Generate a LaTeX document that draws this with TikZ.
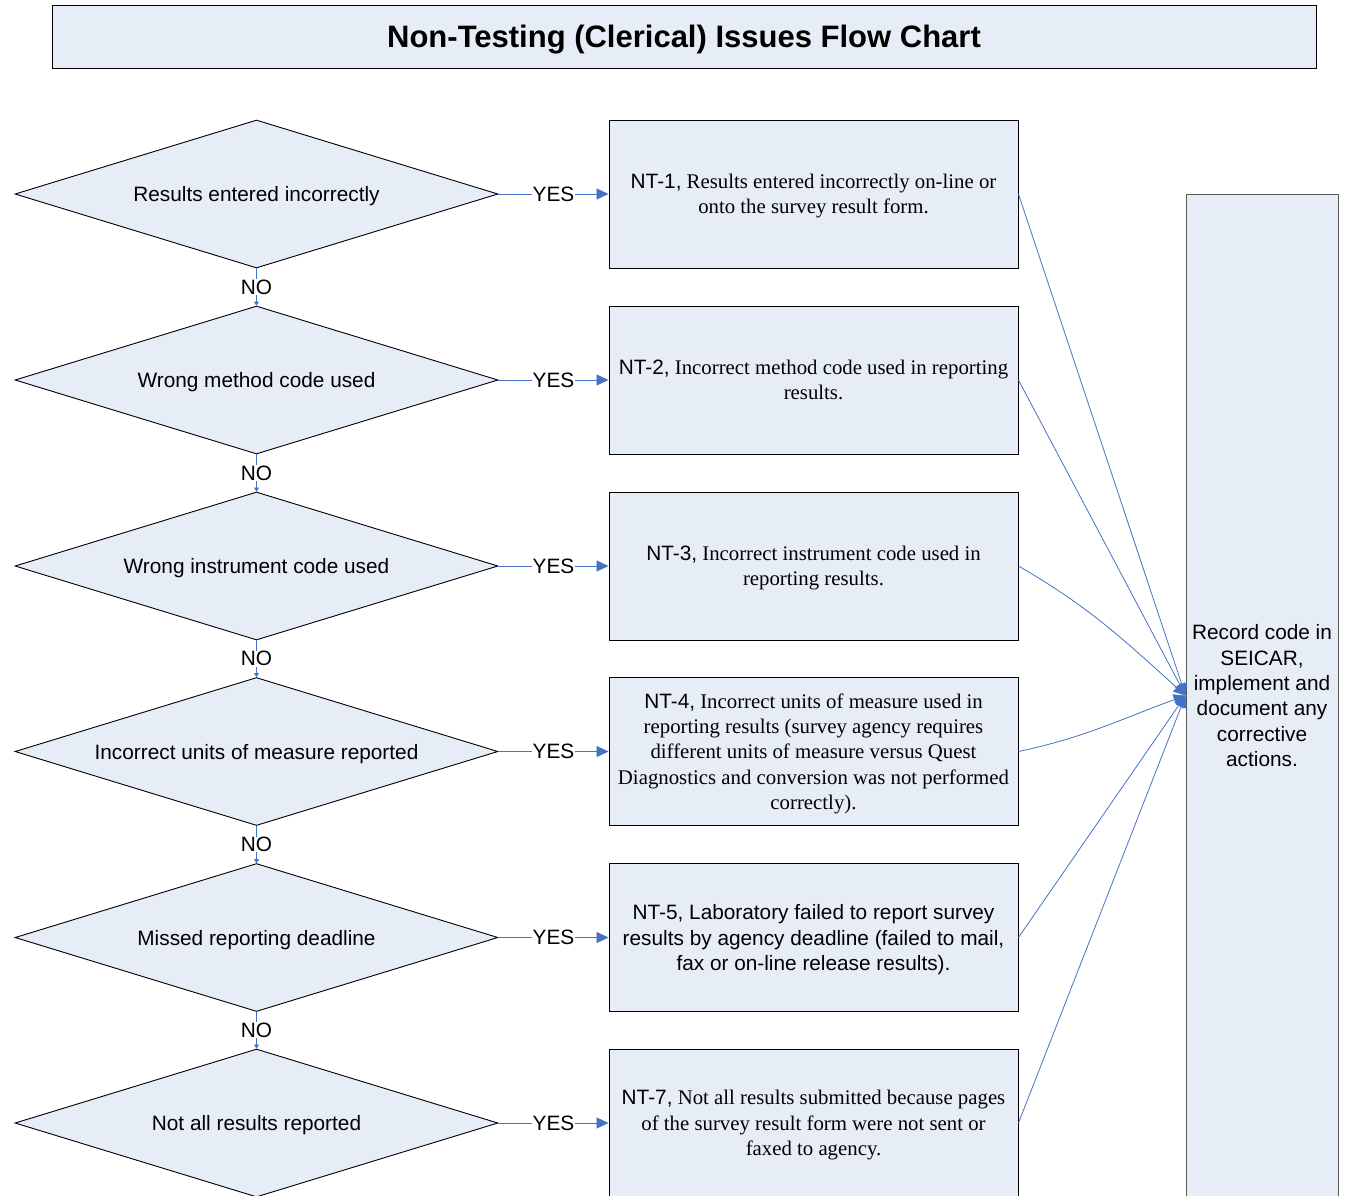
\documentclass[tikz,border=0pt]{standalone}
\usepackage{fontspec}
\setmainfont{Liberation Serif}
\setsansfont{Liberation Sans}
\usetikzlibrary{shapes.geometric,arrows.meta}
\definecolor{fillb}{RGB}{231,237,247}
\definecolor{lineb}{RGB}{68,114,196}
\newcommand\myfs{\fontsize{20.8}{25.3}\selectfont}
\begin{document}
\begin{tikzpicture}[x=1pt,y=-1pt,
  dia/.style={diamond, draw=black, fill=fillb, line width=0.9pt, minimum width=483pt, minimum height=148pt, inner sep=0pt, aspect=3.26, text depth=0pt, font=\sffamily\myfs},
  res/.style={rectangle, draw=black, fill=fillb, line width=0.9pt, minimum width=409pt, minimum height=148pt, inner sep=2pt, align=center, text depth=0pt, font=\rmfamily\myfs},
  yesarr/.style={draw=lineb, line width=0.8pt, -{Triangle[length=12pt,width=11pt]}},
  noarr/.style={draw=lineb, line width=0.8pt, -{Triangle[length=4pt,width=5pt]}},
  toarr/.style={draw=lineb, line width=0.8pt, -{Triangle[length=12pt,width=11pt]}},
  lbl/.style={fill=white, inner sep=1pt, font=\sffamily\myfs, text=black}]
\path[use as bounding box, clip] (0,0) rectangle (1348,1195);
\node[rectangle, draw=black, fill=fillb, line width=0.9pt, minimum width=1264pt, minimum height=63pt, text depth=0pt, font=\sffamily\bfseries\fontsize{31}{36}\selectfont] (title) at (684,36.5) {Non-Testing (Clerical) Issues Flow Chart};

\node[dia] (d1) at (256.5,194) {Results entered incorrectly};
\node[dia] (d2) at (256.5,380) {Wrong method code used};
\node[dia] (d3) at (256.5,566) {Wrong instrument code used};
\node[dia] (d4) at (256.5,751.5) {Incorrect units of measure reported};
\node[dia] (d5) at (256.5,937.5) {Missed reporting deadline};
\node[dia] (d6) at (256.5,1123) {Not all results reported};

\node[res] (r1) at (813.5,194) {{\sffamily NT-1,} Results entered incorrectly on-line or\\onto the survey result form.};
\node[res] (r2) at (813.5,380) {{\sffamily NT-2,} Incorrect method code used in reporting\\results.};
\node[res] (r3) at (813.5,566) {{\sffamily NT-3,} Incorrect instrument code used in\\reporting results.};
\node[res] (r4) at (813.5,751.5) {{\sffamily NT-4,} Incorrect units of measure used in\\reporting results (survey agency requires\\different units of measure versus Quest\\Diagnostics and conversion was not performed\\correctly).};
\node[res, font=\sffamily\myfs] (r5) at (813.5,937.5) {NT-5, Laboratory failed to report survey\\results by agency deadline (failed to mail,\\fax or on-line release results).};
\node[res] (r6) at (813.5,1123) {{\sffamily NT-7,} Not all results submitted because pages\\of the survey result form were not sent or\\faxed to agency.};

\node[rectangle, draw=black!65, fill=fillb, line width=0.9pt, minimum width=152pt, minimum height=1003pt, align=center, inner sep=2pt, text depth=0pt, font=\sffamily\myfs] (rb) at (1262,695.5) {Record code in\\SEICAR,\\implement and\\document any\\corrective\\actions.};

\foreach \i in {1,...,6}{
  \draw[yesarr] (d\i.east) -- node[lbl]{YES} (r\i.west);
}
\foreach \i/\j in {1/2,2/3,3/4,4/5,5/6}{
  \draw[noarr] (d\i.south) -- node[lbl, inner sep=0.5pt]{NO} (d\j.north);
}

\draw[toarr] (r1.east) -- (rb.west);
\draw[toarr] (r2.east) -- (rb.west);
\draw[toarr] (r3.east) to[out=-30, in=138] (rb.west);
\draw[toarr] (r4.east) to[out=12, in=200] (rb.west);
\draw[toarr] (r5.east) -- (rb.west);
\draw[toarr] (r6.east) -- (rb.west);
\end{tikzpicture}
\end{document}
